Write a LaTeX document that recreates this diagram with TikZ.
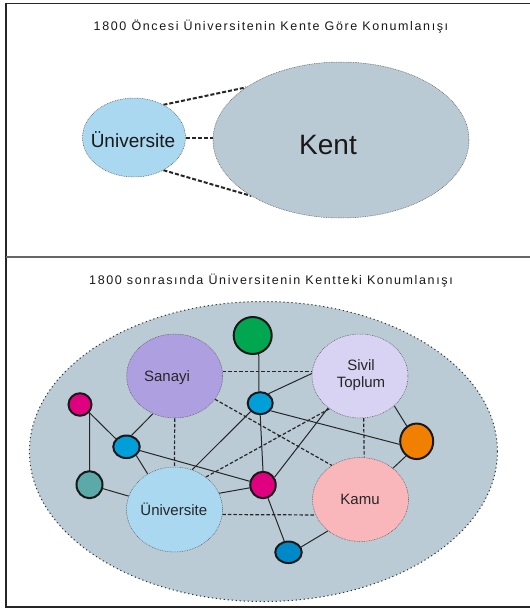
\documentclass[tikz,border=0pt]{standalone}
\usepackage{fontspec}
\setmainfont{Liberation Sans}
\newfontfamily\titlefont[LetterSpace=13]{Liberation Sans}
\usetikzlibrary{shapes.geometric}
\definecolor{bgblue}{HTML}{BACBD6}
\definecolor{kentc}{HTML}{B9CAD5}
\definecolor{unic}{HTML}{AAD8F0}
\definecolor{sanc}{HTML}{AEA0E0}
\definecolor{sivc}{HTML}{D8D3F2}
\definecolor{kamuc}{HTML}{F9B7BB}
\definecolor{greenc}{HTML}{00A650}
\definecolor{bluec}{HTML}{009FDA}
\definecolor{blued}{HTML}{0089C9}
\definecolor{magc}{HTML}{E0007F}
\definecolor{tealc}{HTML}{5CA9AA}
\definecolor{orc}{HTML}{F28000}
\pgfdeclarelayer{back}
\pgfdeclarelayer{edges}
\pgfsetlayers{back,edges,main}
\begin{document}
\begin{tikzpicture}[x=1pt,y=-1pt,
  bigell/.style={ellipse, inner sep=0pt, draw=black!65, line width=0.5pt, dash pattern=on 0.8pt off 0.9pt},
  smallnode/.style={ellipse, inner sep=0pt, draw=black!90, line width=2pt},
  solidlink/.style={draw=black!85, line width=1pt},
  dashlink/.style={draw=black!85, line width=1.2pt, dash pattern=on 3.5pt off 2pt},
  topdash/.style={draw=black!85, line width=2pt, dash pattern=on 4pt off 2pt},
  lbl/.style={anchor=base, inner sep=0pt, text=black!85, font=\fontsize{15}{18}\selectfont},
  titletext/.style={anchor=base, inner sep=0pt, text=black!90, font=\titlefont\fontsize{12.5}{15}\selectfont},
  frameline/.style={draw=black!85, line width=1.6pt},
]
\useasboundingbox (0,0) rectangle (530,608);
\begin{pgfonlayer}{back}
\fill[white] (0,0) rectangle (530,608);
\node[ellipse, inner sep=0pt, minimum width=468pt, minimum height=300pt, fill=bgblue,
      draw=black!80, line width=1pt, dash pattern=on 1.2pt off 2.8pt] (city) at (263.4,451.5) {};
\end{pgfonlayer}

% ---------- top section ----------
\node[titletext] (t1) at (271,30.3) {1800 Öncesi Üniversitenin Kente Göre Konumlanışı};
\node[bigell, fill=unic, minimum width=103pt, minimum height=79pt] (uA) at (134,137.5) {};
\node[bigell, fill=kentc, minimum width=256pt, minimum height=156pt] (kent) at (341,140) {};
\node[anchor=base, inner sep=0pt, text=black!90, font=\fontsize{19}{22}\selectfont] (uAt) at (133,147.3) {Üniversite};
\node[anchor=base, inner sep=0pt, text=black!90, font=\fontsize{28}{32}\selectfont] (kentt) at (328,154) {Kent};
\begin{pgfonlayer}{edges}
\draw[topdash] (uA.48) -- (kent.151);
\draw[topdash] (uA.east) -- (uA.east -| kent.west);
\draw[topdash] (uA.-48) -- (kent.212.7);
\end{pgfonlayer}

% ---------- bottom section ----------
\node[titletext] (t2) at (271,284.3) {1800 sonrasında Üniversitenin Kentteki Konumlanışı};

\node[bigell, fill=sanc, minimum width=96pt, minimum height=84pt] (san) at (174.7,376) {};
\node[bigell, fill=sivc, minimum width=96pt, minimum height=84pt] (siv) at (360,376) {};
\node[bigell, fill=unic, minimum width=96pt, minimum height=85pt] (uB) at (174.5,509.5) {};
\node[bigell, fill=kamuc, minimum width=96pt, minimum height=84pt] (kamu) at (360.5,499.5) {};

\node[lbl] (sant) at (167,381.7) {Sanayi};
\node[lbl] (sivt1) at (361,370) {Sivil};
\node[lbl] (sivt2) at (361,387.7) {Toplum};
\node[lbl] (uBt) at (173.8,515.7) {Üniversite};
\node[lbl] (kamut) at (360,504) {Kamu};

\node[smallnode, fill=greenc, minimum width=38pt, minimum height=37pt] (g) at (252.7,335.5) {};
\node[smallnode, fill=bluec, minimum width=25pt, minimum height=22pt] (b1) at (260.2,403.2) {};
\node[smallnode, fill=magc, minimum width=23pt, minimum height=22.5pt] (m1) at (80,404.5) {};
\node[smallnode, fill=bluec, minimum width=26.5pt, minimum height=22.5pt] (b2) at (126.5,446.8) {};
\node[smallnode, fill=tealc, minimum width=26pt, minimum height=27pt] (t) at (89.5,484.7) {};
\node[smallnode, fill=magc, minimum width=25.5pt, minimum height=26.5pt] (m2) at (263,485) {};
\node[smallnode, fill=orc, minimum width=33pt, minimum height=35.5pt] (o) at (416.7,441.3) {};
\node[smallnode, fill=blued, minimum width=26.5pt, minimum height=21.5pt] (b3) at (288.5,552.3) {};

\begin{pgfonlayer}{edges}
% dashed links
\draw[dashlink] (san.5) -- (siv.175);
\draw[dashlink] (san.south) -- (uB.north);
\draw[dashlink] (siv.-85) -- (kamu.85);
\draw[dashlink] (uB.-6.6) -- (kamu.199.2);
\draw[dashlink] (san.-30) -- (kamu.130.8);
\draw[dashlink] (uB.46.7) -- (siv.227.1);
% solid links
\draw[solidlink] (b1.96) -- (g.-72);
\draw[solidlink] (b1.49.7) -- (siv.177.6);
\draw[solidlink] (b1.221) -- (uB.66.3);
\draw[solidlink] (b1.south) -- (m2.north);
\draw[solidlink] (b1.-36.5) -- (o.190.6);
\draw[solidlink] (m1.-41.3) -- (b2.143.5);
\draw[solidlink] (t.north) -- (m1.-39);
\draw[solidlink] (b2.66.2) -- (san.240.2);
\draw[solidlink] (b2.-42.5) -- (uB.127.7);
\draw[solidlink] (b2) -- (m2);
\draw[solidlink] (t) -- (uB);
\draw[solidlink] (uB.20) -- (m2.192);
\draw[solidlink] (m2.34.7) -- (siv.225.5);
\draw[solidlink] (m2) -- (b3);
\draw[solidlink] (b3.23) -- (kamu.224.4);
\draw[solidlink] (siv.-41.2) -- (o.123);
\draw[solidlink] (kamu.44.1) -- (o.234.5);
\end{pgfonlayer}

% ---------- frame ----------
\coordinate (ftl) at (6,3.5);
\coordinate (ftr) at (530,3.5);
\coordinate (fbl) at (6,607);
\coordinate (fbr) at (530,607);
\coordinate (fml) at (6,257);
\coordinate (fmr) at (530,257);
\draw[frameline] (ftr) -- (ftl) -- (fbl) -- (fbr);
\draw[draw=black!60, line width=2pt] (fml) -- (fmr);
\end{tikzpicture}
\end{document}
